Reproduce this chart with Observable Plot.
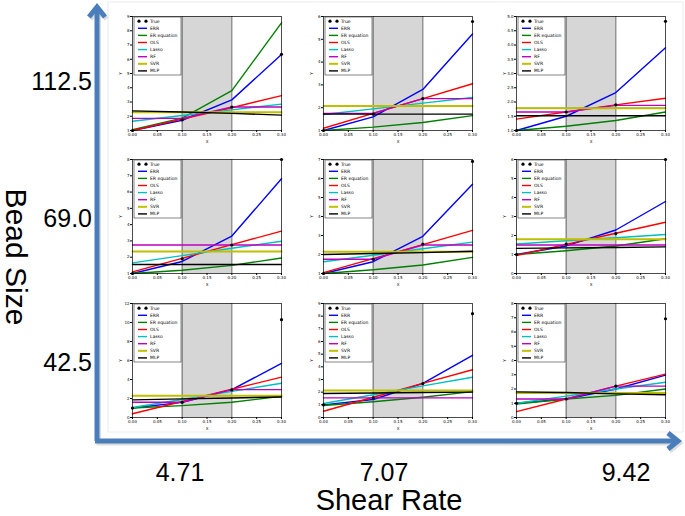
<!DOCTYPE html>
<html><head><meta charset="utf-8">
<script src="https://cdn.jsdelivr.net/npm/d3@7"></script>
<script src="https://cdn.jsdelivr.net/npm/@observablehq/plot@0.6"></script>
<style>
body{margin:0;background:#fff;}
#root{position:relative;width:685px;height:516px;overflow:hidden;font-family:"Liberation Sans",Arial,sans-serif;background:#fff;}
.panel{position:absolute;}
.lbl{position:absolute;color:#000;white-space:nowrap;line-height:1;}
</style></head><body><div id="root"></div>
<script>
// ---------- data ----------
const shearRates = ["4.71", "7.07", "9.42"];
const beadSizes = ["112.5", "69.0", "42.5"];
const methods = ["ERR", "ER equation", "OLS", "Lasso", "RF", "SVR", "MLP"];
const methodColors = ["#0000ff", "#007f00", "#ff0000", "#00bfbf", "#bf00bf", "#bfbf00", "#000000"];
const legendLabels = ["True", "ERR", "ER equation", "OLS", "Lasso", "RF", "SVR", "MLP"];
const xValues = [0, 0.1, 0.2, 0.3];
const xTicks = [0, 0.05, 0.1, 0.15, 0.2, 0.25, 0.3];
const shadeRange = [0.1, 0.2];

// bead size 112.5
const p112_471 = {True:[1.0,1.75,2.65,6.35], ERR:[1.0,1.72,3.15,6.33], "ER equation":[1.05,1.87,3.8,8.55], OLS:[1.0,1.8,2.6,3.45], Lasso:[1.65,2.05,2.45,2.85], RF:[1.85,1.85,2.65,2.65], SVR:[2.28,2.28,2.28,2.28], MLP:[2.38,2.3,2.2,2.08]};
const p112_707 = {True:[1.0,1.72,2.4,5.78], ERR:[1.0,1.6,2.8,5.23], "ER equation":[1.0,1.15,1.35,1.65], OLS:[1.1,1.75,2.4,3.05], Lasso:[1.7,1.95,2.2,2.45], RF:[1.75,1.75,2.4,2.4], SVR:[2.07,2.07,2.07,2.07], MLP:[1.72,1.72,1.72,1.72]};
const p112_942 = {True:[1.0,1.65,1.9,4.83], ERR:[1.0,1.5,2.33,3.9], "ER equation":[1.0,1.15,1.35,1.65], OLS:[1.4,1.65,1.9,2.13], Lasso:[1.78,1.78,1.78,1.78], RF:[1.65,1.65,1.88,1.88], SVR:[1.78,1.78,1.78,1.78], MLP:[1.52,1.52,1.52,1.52]};
// bead size 69.0
const p69_471 = {True:[1.0,1.9,2.75,8.0], ERR:[1.0,1.74,3.3,6.82], "ER equation":[1.0,1.2,1.5,1.95], OLS:[1.1,1.93,2.77,3.6], Lasso:[1.65,2.1,2.55,2.98], RF:[2.75,2.75,2.75,2.75], SVR:[2.35,2.35,2.35,2.35], MLP:[1.55,1.55,1.55,1.55]};
const p69_707 = {True:[1.0,1.75,2.55,6.9], ERR:[1.0,1.62,2.96,5.7], "ER equation":[1.0,1.2,1.45,1.85], OLS:[1.05,1.78,2.52,3.27], Lasso:[1.62,1.96,2.3,2.65], RF:[1.75,1.75,2.5,2.5], SVR:[2.15,2.15,2.15,2.15], MLP:[2.0,2.05,2.1,2.17]};
const p69_942 = {True:[1.0,1.55,2.1,6.0], ERR:[1.0,1.45,2.29,3.79], "ER equation":[1.0,1.2,1.45,1.83], OLS:[0.95,1.53,2.12,2.7], Lasso:[1.55,1.72,1.88,2.05], RF:[1.5,1.5,1.5,1.5], SVR:[1.8,1.8,1.8,1.8], MLP:[1.32,1.35,1.37,1.4]};
// bead size 42.5
const p42_471 = {True:[1.0,1.6,2.9,10.3], ERR:[1.0,1.59,2.93,5.69], "ER equation":[1.0,1.25,1.6,2.24], OLS:[0.4,1.68,2.97,4.25], Lasso:[1.05,1.9,2.75,3.6], RF:[1.6,1.6,2.93,2.93], SVR:[2.3,2.3,2.3,2.3], MLP:[1.86,1.96,2.06,2.16]};
const p42_707 = {True:[1.0,1.55,2.68,8.2], ERR:[1.0,1.42,2.69,4.91], "ER equation":[0.95,1.24,1.6,2.04], OLS:[0.49,1.6,2.7,3.77], Lasso:[1.11,1.8,2.5,3.18], RF:[1.55,1.55,1.55,1.55], SVR:[2.14,2.14,2.14,2.14], MLP:[1.9,1.93,1.97,2.0]};
const p42_942 = {True:[1.0,1.3,2.2,6.93], ERR:[1.0,1.3,2.0,2.97], "ER equation":[0.95,1.3,1.55,2.0], OLS:[0.41,1.3,2.2,3.04], Lasso:[1.0,1.5,2.0,2.47], RF:[1.3,1.3,2.2,2.2], SVR:[1.72,1.72,1.72,1.72], MLP:[1.8,1.75,1.66,1.6]};

// y axis ticks per panel
const yTicks112 = [[1,2,3,4,5,6,7,8,9],[1,2,3,4,5,6],[1.0,1.5,2.0,2.5,3.0,3.5,4.0,4.5,5.0]];
const yTicks69 = [[1,2,3,4,5,6,7,8],[1,2,3,4,5,6,7],[0,1,2,3,4,5,6]];
const yTicks42 = [[0,2,4,6,8,10,12],[0,1,2,3,4,5,6,7,8,9],[0,1,2,3,4,5,6,7,8]];

const grid = [
  [p112_471, p112_707, p112_942],
  [p69_471, p69_707, p69_942],
  [p42_471, p42_707, p42_942]
];
const gridTicks = [yTicks112, yTicks69, yTicks42];
const gridFormats = [["d","d",".1f"],["d","d","d"],["d","d","d"]];

// ---------- layout ----------
const root = document.getElementById("root");
const colLeft = [132, 323, 516];
const rowTop = [16, 159, 303];
const PW = 149, PH = 114;
const ML = 22, MR = 8, MT = 4, MB = 22;

// faint frame around panels
const bg = d3.select(root).append("svg").attr("width",685).attr("height",516)
  .style("position","absolute").style("left","0").style("top","0");
bg.append("rect").attr("x",108).attr("y",2).attr("width",575).attr("height",430)
  .attr("fill","none").attr("stroke","#ececec").attr("stroke-width",1);

function drawPanel(d, yTicks, fmt, left, top) {
  const yDomain = [yTicks[0], yTicks[yTicks.length - 1]];
  const lineMarks = methods.map((m, i) => Plot.line(d[m].map((v, j) => ({x: xValues[j], y: v})), {
    x: "x", y: "y", stroke: methodColors[i], strokeWidth: m === "SVR" ? 2 : 1.4
  }));
  const truth = d.True.map((v, j) => ({x: xValues[j], y: v}));
  const chart = Plot.plot({
    width: ML + PW + MR, height: MT + PH + MB,
    marginLeft: ML, marginRight: MR, marginTop: MT, marginBottom: MB,
    style: {fontSize: "4px", fontFamily: "DejaVu Sans", background: "transparent", overflow: "visible"},
    x: {domain: [0, 0.3]},
    y: {domain: yDomain},
    marks: [
      Plot.rect([{x1: shadeRange[0], x2: shadeRange[1]}], {x1: "x1", x2: "x2", fill: "#d6d6d6"}),
      Plot.ruleX(shadeRange, {stroke: "#666", strokeWidth: 1}),
      ...lineMarks,
      Plot.dot(truth, {x: "x", y: "y", fill: "black", r: 1.6}),
      Plot.frame({stroke: "black", strokeWidth: 0.7}),
      Plot.axisX({ticks: xTicks, tickFormat: d3.format(".2f"), tickSize: 2, tickPadding: 1, fontSize: 4,
        label: "X", labelAnchor: "center", labelOffset: 12, labelArrow: "none"}),
      Plot.axisY({ticks: yTicks, tickFormat: d3.format(fmt), tickSize: 2, tickPadding: 1, fontSize: 4,
        label: "Y", labelAnchor: "center", labelOffset: 13, labelArrow: "none"})
    ]
  });
  chart.classList.add("panel");
  chart.style.left = (left - ML) + "px";
  chart.style.top = (top - MT) + "px";
  // legend (upper left, inside axes)
  const svg = d3.select(chart);
  const lx = ML + 2, ly = MT + 1, lw = 47, lh = 58;
  const g = svg.append("g").attr("font-family", "DejaVu Sans").attr("font-size", 4.5).attr("text-anchor", "start");
  g.append("rect").attr("x", lx).attr("y", ly).attr("width", lw).attr("height", lh)
    .attr("fill", "white").attr("stroke", "#333").attr("stroke-width", 0.6);
  legendLabels.forEach((name, i) => {
    const yy = ly + 4.2 + i * 7.1;
    if (i === 0) {
      g.append("circle").attr("cx", lx + 5).attr("cy", yy).attr("r", 1.6).attr("fill", "black");
      g.append("circle").attr("cx", lx + 12).attr("cy", yy).attr("r", 1.6).attr("fill", "black");
    } else {
      g.append("line").attr("x1", lx + 4).attr("x2", lx + 13).attr("y1", yy).attr("y2", yy)
        .attr("stroke", methodColors[i - 1]).attr("stroke-width", i === 6 ? 2 : 1.4);
    }
    g.append("text").attr("x", lx + 16).attr("y", yy).attr("dy", "0.35em")
      .attr("text-anchor", "start").attr("fill", "#000").text(name);
  });
  root.appendChild(chart);
}

grid.forEach((row, r) => row.forEach((d, c) => drawPanel(d, gridTicks[r][c], gridFormats[r][c], colLeft[c], rowTop[r])));

// arrows
const ov = d3.select(root).append("svg").attr("width",685).attr("height",516)
  .style("position","absolute").style("left","0").style("top","0");
const blue = "#4a7ebb";
const shadow = ov.append("g").attr("stroke","#bbb").attr("stroke-width",5).attr("fill","none").attr("opacity",0.5)
  .attr("transform","translate(1.5,2)");
const arr = ov.append("g").attr("stroke",blue).attr("stroke-width",5).attr("fill","none")
  .attr("stroke-linecap","butt").attr("stroke-linejoin","miter");
[shadow, arr].forEach(g => {
  g.append("path").attr("d","M97,441 L97,8");
  g.append("path").attr("d","M89,17 L97,7 L105,17");
  g.append("path").attr("d","M95,441 L678,441");
  g.append("path").attr("d","M668,433 L678,441 L668,449");
});

// text labels
function label(text, x, y, size, anchor, rotate) {
  const el = document.createElement("div");
  el.className = "lbl";
  el.textContent = text;
  el.style.fontSize = size + "px";
  el.style.left = x + "px";
  el.style.top = y + "px";
  let tr = anchor === "end" ? "translate(-100%,-50%)" : "translate(-50%,-50%)";
  if (rotate) tr += " rotate(" + rotate + "deg)";
  el.style.transform = tr;
  root.appendChild(el);
}
const rowCenters = [81, 218, 362];
beadSizes.forEach((b, i) => label(b, 92, rowCenters[i], 25, "end"));
const colCenters = [180, 384, 626];
shearRates.forEach((s, i) => label(s, colCenters[i], 472, 25, "middle"));
label("Shear Rate", 389, 500, 29, "middle");
label("Bead Size", 16, 257, 30, "middle", 90);
</script></body></html>
